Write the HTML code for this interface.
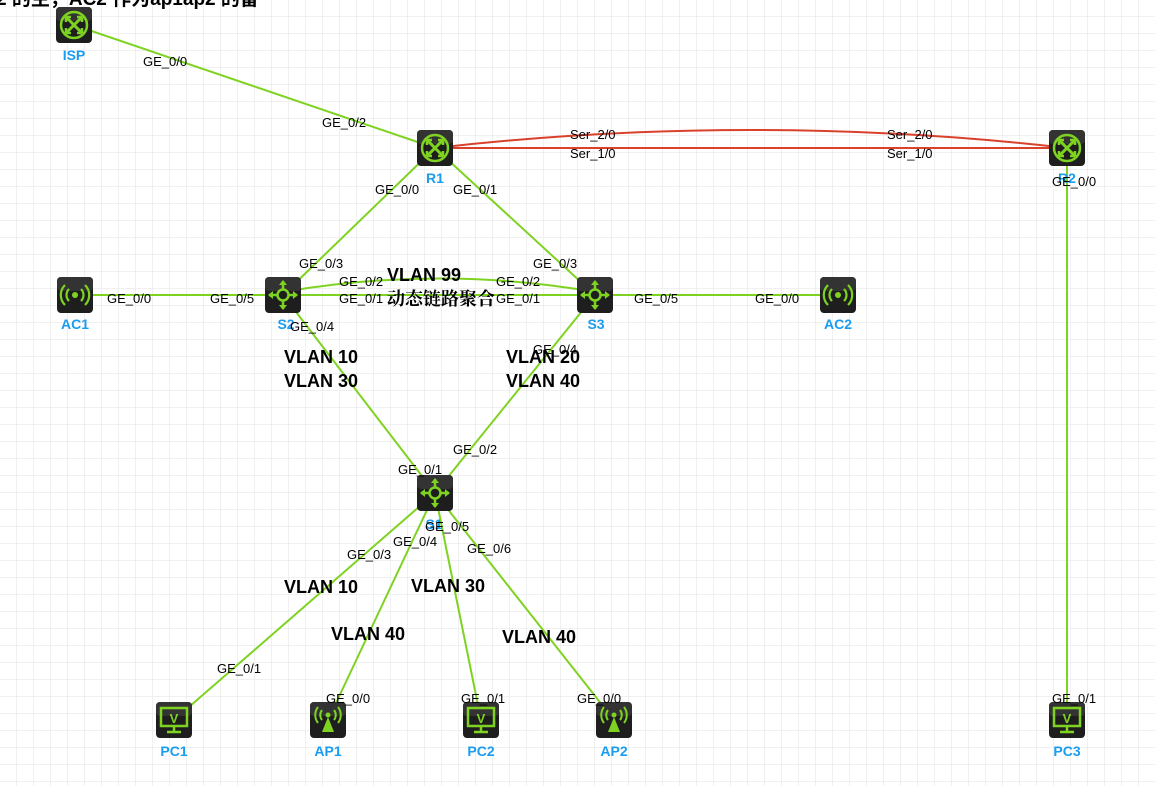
<!DOCTYPE html>
<html><head><meta charset="utf-8"><style>
html,body{margin:0;padding:0;background:#fff;}
svg{display:block;font-family:"Liberation Sans","Noto Sans CJK SC",sans-serif;}
.l{font-size:13px;fill:#000;}
.n{font-size:14px;font-weight:bold;fill:#1a9cf0;text-anchor:middle;}
.v{font-size:18px;font-weight:bold;fill:#000;}
</style></head><body>
<svg width="1155" height="786" viewBox="0 0 1155 786" xmlns="http://www.w3.org/2000/svg">
<defs>
<pattern id="g" width="17" height="17" patternUnits="userSpaceOnUse"><path d="M17 0V17H0" fill="none" stroke="#ececec" stroke-width="1.5"/></pattern>
<g id="box"><rect x="-18" y="-18" width="36" height="36" rx="4" fill="#1e1e1e"/><rect x="-18" y="-18" width="36" height="14" rx="4" fill="#333"/></g>
<g id="rtr"><use href="#box"/><circle r="13" fill="none" stroke="#7ed321" stroke-width="2.5"/><path d="M-7-7L7 7M7-7L-7 7" stroke="#7ed321" stroke-width="3"/><path d="M-8-8h5M-8-8v5M8 8h-5M8 8v-5M8-8h-5M8-8v5M-8 8h5M-8 8v-5" stroke="#7ed321" stroke-width="2.5"/></g>
<g id="sw"><use href="#box"/><circle r="5.5" fill="none" stroke="#7ed321" stroke-width="2.5"/><path d="M0-14V-6M0 6V14M-14 0H-6M6 0H14" stroke="#7ed321" stroke-width="2.5"/><path d="M-4-10L0-15L4-10ZM-4 10L0 15L4 10ZM-10-4L-15 0L-10 4ZM10-4L15 0L10 4Z" fill="#7ed321"/></g>
<g id="ac"><use href="#box"/><circle r="3" fill="#7ed321"/><path d="M-6-6a8.5 8.5 0 0 0 0 12M6-6a8.5 8.5 0 0 1 0 12M-10-10a14 14 0 0 0 0 20M10-10a14 14 0 0 1 0 20" fill="none" stroke="#7ed321" stroke-width="2.2"/></g>
<g id="ap"><use href="#box"/><path d="M0-3L-6 12H6Z" fill="#7ed321"/><circle cy="-5" r="2.5" fill="#7ed321"/><path d="M-6-10a8 8 0 0 0 0 10M6-10a8 8 0 0 1 0 10M-10-13a13 13 0 0 0 0 16M10-13a13 13 0 0 1 0 16" fill="none" stroke="#7ed321" stroke-width="2"/></g>
<g id="pc"><use href="#box"/><rect x="-13" y="-12" width="26" height="18" fill="none" stroke="#7ed321" stroke-width="2.5"/><path d="M0 6V11M-7 12H7" stroke="#7ed321" stroke-width="2.5"/><text x="0" y="3" font-size="13" font-weight="bold" fill="#7ed321" text-anchor="middle">V</text></g>
</defs>
<rect width="1155" height="786" fill="url(#g)"/>
<text x="-4" y="5" font-size="19" font-weight="bold" fill="#000">2 的主，AC2 作为ap1ap2 的备</text>
<g stroke="#7ed321" stroke-width="2" fill="none">
<path d="M74 25L435 148"/>
<path d="M435 148L283 295M435 148L595 295"/>
<path d="M75 295H838"/>
<path d="M283 292Q439 265 595 292"/>
<path d="M283 295L435 493M595 295L435 493"/>
<path d="M435 493L174 720M435 493L328 720M435 493L481 720M435 493L614 720"/>
<path d="M1067 148V720"/>
</g>
<g stroke="#d9412b" stroke-width="2" fill="none">
<path d="M435 148H1067"/>
<path d="M435 148Q751 112 1067 148"/>
</g>
<use href="#rtr" x="74" y="25"/><use href="#rtr" x="435" y="148"/><use href="#rtr" x="1067" y="148"/>
<use href="#ac" x="75" y="295"/><use href="#ac" x="838" y="295"/>
<use href="#sw" x="283" y="295"/><use href="#sw" x="595" y="295"/><use href="#sw" x="435" y="493"/>
<use href="#pc" x="174" y="720"/><use href="#ap" x="328" y="720"/><use href="#pc" x="481" y="720"/><use href="#ap" x="614" y="720"/><use href="#pc" x="1067" y="720"/>
<g class="n">
<text x="74" y="60">ISP</text><text x="435" y="183">R1</text><text x="1067" y="183">R2</text>
<text x="75" y="329">AC1</text><text x="286" y="329">S2</text><text x="596" y="329">S3</text><text x="838" y="329">AC2</text>
<text x="434" y="529">S1</text>
<text x="174" y="756">PC1</text><text x="328" y="756">AP1</text><text x="481" y="756">PC2</text><text x="614" y="756">AP2</text><text x="1067" y="756">PC3</text>
</g>
<g class="l">
<text x="143" y="66">GE_0/0</text><text x="322" y="127">GE_0/2</text>
<text x="570" y="139">Ser_2/0</text><text x="570" y="158">Ser_1/0</text>
<text x="887" y="139">Ser_2/0</text><text x="887" y="158">Ser_1/0</text>
<text x="1052" y="186">GE_0/0</text>
<text x="375" y="194">GE_0/0</text><text x="453" y="194">GE_0/1</text>
<text x="299" y="268">GE_0/3</text><text x="533" y="268">GE_0/3</text>
<text x="339" y="286">GE_0/2</text><text x="496" y="286">GE_0/2</text>
<text x="339" y="303">GE_0/1</text><text x="496" y="303">GE_0/1</text>
<text x="107" y="303">GE_0/0</text><text x="210" y="303">GE_0/5</text>
<text x="634" y="303">GE_0/5</text><text x="755" y="303">GE_0/0</text>
<text x="290" y="331">GE_0/4</text><text x="533" y="354">GE_0/4</text>
<text x="453" y="454">GE_0/2</text><text x="398" y="474">GE_0/1</text>
<text x="425" y="531">GE_0/5</text><text x="393" y="546">GE_0/4</text><text x="347" y="559">GE_0/3</text><text x="467" y="553">GE_0/6</text>
<text x="217" y="673">GE_0/1</text><text x="326" y="703">GE_0/0</text><text x="461" y="703">GE_0/1</text><text x="577" y="703">GE_0/0</text>
<text x="1052" y="703">GE_0/1</text>
</g>
<g class="v">
<text x="387" y="281">VLAN 99</text>
<text x="387" y="305" font-size="18" font-family="'Noto Serif CJK SC','Liberation Serif',serif">动态链路聚合</text>
<text x="284" y="363">VLAN 10</text><text x="284" y="387">VLAN 30</text>
<text x="506" y="363">VLAN 20</text><text x="506" y="387">VLAN 40</text>
<text x="284" y="593">VLAN 10</text><text x="411" y="592">VLAN 30</text>
<text x="331" y="640">VLAN 40</text><text x="502" y="643">VLAN 40</text>
</g>
</svg>
</body></html>
